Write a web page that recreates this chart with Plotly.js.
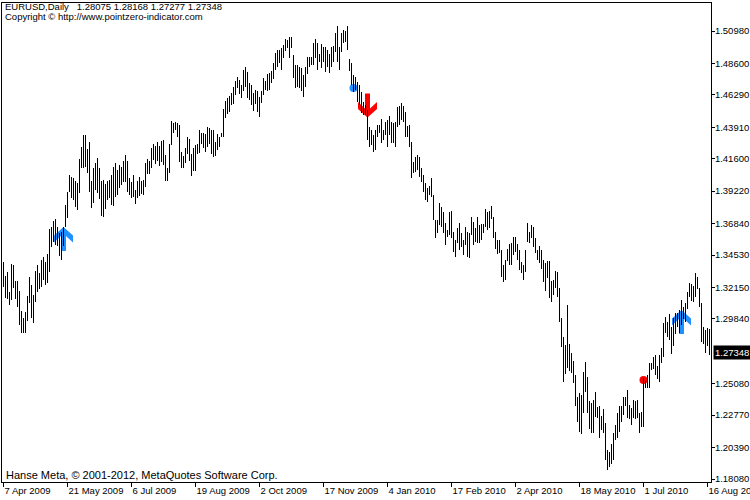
<!DOCTYPE html>
<html>
<head>
<meta charset="utf-8">
<script src="https://cdn.plot.ly/plotly-3.0.1.min.js"></script>
<style>html,body{margin:0;padding:0;background:#fff;}#chart{width:750px;height:500px;}</style>
</head>
<body>
<div id="chart"></div>
<script>
// EURUSD Daily bars (high / low), one entry per trading day, left to right
const high = [
1.3401,1.3299,1.3328,1.3181,1.3387,1.3379,1.3262,1.3262,1.3189,1.3042,
1.2991,1.3035,1.3152,1.3291,1.3233,1.3159,1.3335,1.3379,1.3321,1.3416,
1.3438,1.3401,1.3460,1.3643,1.3659,1.3703,1.3717,1.3659,1.3615,1.3622,
1.3659,1.3821,1.3916,1.4041,1.4026,1.4019,1.3997,1.3982,1.4158,1.4246,
1.4334,1.4334,1.4231,1.4283,1.3997,1.4092,1.4129,1.4166,1.4092,1.3997,
1.4004,1.3974,1.3997,1.4004,1.4041,1.4099,1.4129,1.4077,1.4114,1.4099,
1.4143,1.4188,1.4143,1.4019,1.3989,1.4041,1.3930,1.3997,1.4026,1.3997,
1.4004,1.4129,1.4158,1.4143,1.4239,1.4268,1.4254,1.4283,1.4254,1.4290,
1.4298,1.4188,1.4092,1.4268,1.4437,1.4422,1.4429,1.4422,1.4407,1.4210,
1.4180,1.4239,1.4320,1.4305,1.4195,1.4239,1.4261,1.4268,1.4371,1.4349,
1.4349,1.4342,1.4393,1.4386,1.4371,1.4371,1.4283,1.4342,1.4320,1.4349,
1.4525,1.4584,1.4606,1.4621,1.4643,1.4687,1.4731,1.4760,1.4738,1.4702,
1.4812,1.4834,1.4797,1.4716,1.4702,1.4643,1.4665,1.4658,1.4614,1.4658,
1.4753,1.4731,1.4782,1.4790,1.4804,1.4863,1.4936,1.4958,1.4958,1.4973,
1.4995,1.5039,1.5032,1.5054,1.5054,1.4922,1.4848,1.4848,1.4834,1.4826,
1.4775,1.4834,1.4907,1.4907,1.4907,1.5010,1.5039,1.5010,1.4929,1.5002,
1.4980,1.4980,1.4958,1.4929,1.4980,1.4988,1.5083,1.5135,1.4980,1.5083,
1.5105,1.5098,1.5135,1.4892,1.4863,1.4775,1.4760,1.4723,1.4702,1.4650,
1.4577,1.4554,1.4518,1.4393,1.4371,1.4334,1.4371,1.4407,1.4407,1.4452,
1.4371,1.4430,1.4444,1.4474,1.4430,1.4422,1.4430,1.4540,1.4547,1.4569,
1.4547,1.4503,1.4400,1.4407,1.4283,1.4136,1.4173,1.4188,1.4173,1.4092,
1.4041,1.3982,1.3945,1.3960,1.4019,1.3894,1.3710,1.3710,1.3835,1.3806,
1.3769,1.3688,1.3637,1.3769,1.3776,1.3622,1.3563,1.3651,1.3688,1.3615,
1.3563,1.3659,1.3622,1.3615,1.3732,1.3695,1.3651,1.3732,1.3673,1.3681,
1.3681,1.3791,1.3769,1.3776,1.3813,1.3732,1.3622,1.3563,1.3563,1.3490,
1.3379,1.3416,1.3497,1.3534,1.3541,1.3585,1.3585,1.3534,1.3490,1.3401,
1.3379,1.3490,1.3688,1.3622,1.3673,1.3659,1.3578,1.3490,1.3519,1.3490,
1.3416,1.3394,1.3409,1.3409,1.3262,1.3269,1.3335,1.3328,1.3210,1.2991,
1.2851,1.2792,1.3086,1.2800,1.2733,1.2675,1.2572,1.2410,1.2440,1.2425,
1.2594,1.2667,1.2557,1.2381,1.2366,1.2388,1.2447,1.2337,1.2344,1.2271,
1.2322,1.2219,1.2021,1.2006,1.2065,1.2146,1.2204,1.2293,1.2344,1.2344,
1.2410,1.2410,1.2462,1.2352,1.2330,1.2388,1.2381,1.2388,1.2293,1.2300,
1.2550,1.2528,1.2572,1.2660,1.2660,1.2704,1.2719,1.2638,1.2719,1.2770,
1.2954,1.2998,1.2961,1.3020,1.2924,1.2991,1.3027,1.3027,1.3049,1.3123,
1.3071,1.3101,1.3181,1.3247,1.3240,1.3225,1.3321,1.3291,1.3210,1.3101,
1.2924,1.2902,1.2917,1.2910,1.28168
];
const low = [
1.3218,1.3137,1.3130,1.3086,1.3123,1.3210,1.3130,1.3072,1.2939,1.2880,
1.2880,1.2880,1.2969,1.3101,1.2991,1.2954,1.3108,1.3181,1.3203,1.3218,
1.3269,1.3233,1.3247,1.3328,1.3512,1.3548,1.3526,1.3519,1.3446,1.3416,
1.3519,1.3659,1.3725,1.3916,1.3872,1.3857,1.3806,1.3784,1.3908,1.4092,
1.4092,1.4099,1.4055,1.3915,1.3799,1.3835,1.3930,1.3908,1.3864,1.3740,
1.3732,1.3791,1.3857,1.3872,1.3821,1.3813,1.3879,1.3894,1.3945,1.3967,
1.3989,1.3989,1.3915,1.3894,1.3872,1.3879,1.3828,1.3872,1.3886,1.3901,
1.3894,1.3952,1.4048,1.4048,1.4092,1.4151,1.4121,1.4143,1.4107,1.4136,
1.4114,1.3997,1.3997,1.4055,1.4261,1.4349,1.4371,1.4320,1.4136,1.4092,
1.4092,1.4129,1.4195,1.4143,1.4033,1.4070,1.4070,1.4195,1.4202,1.4268,
1.4239,1.4210,1.4246,1.4268,1.4195,1.4173,1.4180,1.4224,1.4246,1.4320,
1.4320,1.4459,1.4488,1.4503,1.4554,1.4562,1.4628,1.4680,1.4636,1.4606,
1.4658,1.4687,1.4606,1.4591,1.4554,1.4510,1.4562,1.4503,1.4466,1.4569,
1.4628,1.4665,1.4658,1.4665,1.4716,1.4746,1.4812,1.4834,1.4863,1.4812,
1.4900,1.4951,1.4973,1.4900,1.4973,1.4753,1.4680,1.4687,1.4680,1.4658,
1.4614,1.4687,1.4782,1.4834,1.4848,1.4848,1.4900,1.4812,1.4870,1.4826,
1.4870,1.4797,1.4834,1.4790,1.4834,1.4870,1.4944,1.4870,1.4812,1.4944,
1.5010,1.5017,1.4958,1.4804,1.4702,1.4650,1.4665,1.4577,1.4554,1.4496,
1.4481,1.4481,1.4298,1.4246,1.4261,1.4210,1.4224,1.4320,1.4349,1.4276,
1.4298,1.4334,1.4246,1.4334,1.4276,1.4276,1.4246,1.4393,1.4407,1.4444,
1.4430,1.4320,1.4320,1.4246,1.4019,1.4055,1.4063,1.4077,1.4026,1.3989,
1.3916,1.3857,1.3843,1.3894,1.3879,1.3710,1.3578,1.3615,1.3673,1.3659,
1.3615,1.3526,1.3585,1.3600,1.3578,1.3475,1.3438,1.3541,1.3490,1.3512,
1.3453,1.3526,1.3438,1.3431,1.3600,1.3526,1.3548,1.3541,1.3541,1.3563,
1.3615,1.3659,1.3637,1.3651,1.3717,1.3578,1.3497,1.3460,1.3468,1.3291,
1.3255,1.3269,1.3409,1.3379,1.3379,1.3453,1.3475,1.3416,1.3343,1.3321,
1.3269,1.3328,1.3548,1.3541,1.3578,1.3512,1.3468,1.3416,1.3394,1.3350,
1.3255,1.3189,1.3284,1.3137,1.3108,1.3159,1.3210,1.3145,1.2961,1.2778,
1.2521,1.2579,1.2623,1.2601,1.2587,1.2513,1.2344,1.2227,1.2153,1.2138,
1.2293,1.2447,1.2293,1.2175,1.2146,1.2146,1.2263,1.2256,1.2109,1.2168,
1.2146,1.1947,1.1874,1.1896,1.1918,1.1947,1.2094,1.2109,1.2153,1.2227,
1.2278,1.2344,1.2256,1.2249,1.2204,1.2256,1.2249,1.2256,1.2146,1.2190,
1.2190,1.2476,1.2476,1.2476,1.2608,1.2616,1.2572,1.2543,1.2521,1.2660,
1.2704,1.2880,1.2851,1.2829,1.2726,1.2785,1.2873,1.2924,1.2880,1.2939,
1.2983,1.2961,1.3057,1.3145,1.3115,1.3108,1.3145,1.3203,1.3071,1.2814,
1.2800,1.2733,1.2785,1.2719,1.27277
];

// time axis labels and the bar each label belongs to
const dateLabels = ["7 Apr 2009","21 May 2009","6 Jul 2009","19 Aug 2009","2 Oct 2009","17 Nov 2009",
                    "4 Jan 2010","17 Feb 2010","2 Apr 2010","18 May 2010","1 Jul 2010","16 Aug 2010"];
const dateLabelBar = [0,32,64,96,128,160,192,224,256,288,320,352];

// price scale labels
const priceTicks = [1.18080,1.20390,1.22770,1.25080,1.29840,1.32150,1.34530,1.36840,
                    1.39220,1.41600,1.43910,1.46290,1.48600,1.50980];

// last bar quote
const symbolName = "EURUSD,Daily";
const lastQuote = [1.28075, 1.28168, 1.27277, 1.27348]; // open high low close

// indicator signals (bar index, price)
const upArrowBar = [30, 339];
const upArrowPrice = [1.3570, 1.2961];
const downArrowBar = [182];
const downArrowPrice = [1.4551];
const blueDotBar = [175];
const blueDotPrice = [1.4679];
const redDotBar = [320];
const redDotPrice = [1.2535];

const BLUE = "rgb(30,144,255)";
const RED = "rgb(255,0,0)";

const barIndex = high.map((_, i) => i);
const barSpan = high.map((h, i) => h - low[i]);

const traces = [{
  type: "bar",
  x: barIndex,
  base: low,
  y: barSpan,
  width: 0.45,
  marker: {color: "#000", line: {width: 0}},
  hoverinfo: "skip"
}];

const upPath = "M0,12 L9.5,3.5 L9.5,-3.5 L2.5,3 L2.5,-12 L-2.5,-12 L-2.5,3 L-9.5,-3.5 L-9.5,3.5 Z";
const downPath = "M0,-12 L9.5,-3.5 L9.5,3.5 L2.5,-3 L2.5,12 L-2.5,12 L-2.5,-3 L-9.5,3.5 L-9.5,-3.5 Z";

const shapes = [];
function addPath(bars, prices, path, color) {
  bars.forEach((b, k) => shapes.push({
    type: "path", layer: "below", xref: "x", yref: "y",
    xsizemode: "pixel", ysizemode: "pixel", xanchor: b, yanchor: prices[k],
    path: path, fillcolor: color, line: {width: 0}
  }));
}
function addDot(bars, prices, color) {
  bars.forEach((b, k) => shapes.push({
    type: "circle", layer: "below", xref: "x", yref: "y",
    xsizemode: "pixel", ysizemode: "pixel", xanchor: b, yanchor: prices[k],
    x0: -4, x1: 4, y0: -4, y1: 4, fillcolor: color, line: {width: 0}
  }));
}
addPath(upArrowBar, upArrowPrice, upPath, BLUE);
addPath(downArrowBar, downArrowPrice, downPath, RED);
addDot(blueDotBar, blueDotPrice, BLUE);
addDot(redDotBar, redDotPrice, RED);

const FONT = '"Liberation Sans", Arial, sans-serif';
const nb = "\u00a0";

const annotations = [
  {xref: "paper", yref: "paper", x: 0, y: 1, xanchor: "left", yanchor: "middle", xshift: 1, yshift: -3.5,
   showarrow: false, align: "left", font: {family: FONT, size: 9.5, color: "#000"},
   text: symbolName + nb + nb + nb + lastQuote.map(v => v.toFixed(5)).join(" ")},
  {xref: "paper", yref: "paper", x: 0, y: 1, xanchor: "left", yanchor: "middle", xshift: 1, yshift: -13.5,
   showarrow: false, align: "left", font: {family: FONT, size: 9.5, color: "#000"},
   text: "Copyright © http://www.pointzero-indicator.com"},
  {xref: "paper", yref: "paper", x: 0, y: 0, xanchor: "left", yanchor: "middle", xshift: 2, yshift: 7,
   showarrow: false, align: "left", font: {family: FONT, size: 11, color: "#000"},
   text: "Hanse Meta, © 2001-2012, MetaQuotes Software Corp."},
  {xref: "paper", yref: "y", x: 1, y: lastQuote[3], xanchor: "left", yanchor: "middle", xshift: 2,
   showarrow: false, bgcolor: "#000", borderpad: 1, font: {family: FONT, size: 9.5, color: "#fff"},
   text: lastQuote[3].toFixed(5)}
];

const layout = {
  width: 750, height: 500,
  margin: {l: 2, r: 39, t: 3, b: 18, pad: 0},
  paper_bgcolor: "#fff", plot_bgcolor: "#fff",
  showlegend: false,
  font: {family: FONT, size: 9.5, color: "#000"},
  bargap: 0,
  xaxis: {
    range: [-0.75, 353.75], showgrid: false, zeroline: false,
    showline: true, linecolor: "#000", linewidth: 1, mirror: true,
    ticks: "outside", ticklen: 4, tickcolor: "#000", tickwidth: 1,
    tickmode: "array", tickvals: dateLabelBar, ticktext: dateLabels,
    ticklabelposition: "outside right", ticklabeloverflow: "allow",
    tickfont: {family: FONT, size: 9.5, color: "#000"}, fixedrange: true
  },
  yaxis: {
    range: [1.178597, 1.530363], side: "right", showgrid: false, zeroline: false,
    showline: true, linecolor: "#000", linewidth: 1, mirror: true,
    ticks: "outside", ticklen: 3, tickcolor: "#000", tickwidth: 1,
    tickmode: "array", tickvals: priceTicks, ticktext: priceTicks.map(v => v.toFixed(5)),
    ticklabelstandoff: -2,
    tickfont: {family: FONT, size: 9.5, color: "#000"}, fixedrange: true
  },
  shapes: shapes,
  annotations: annotations
};

Plotly.newPlot("chart", traces, layout, {displayModeBar: false, responsive: false});
</script>
</body>
</html>
